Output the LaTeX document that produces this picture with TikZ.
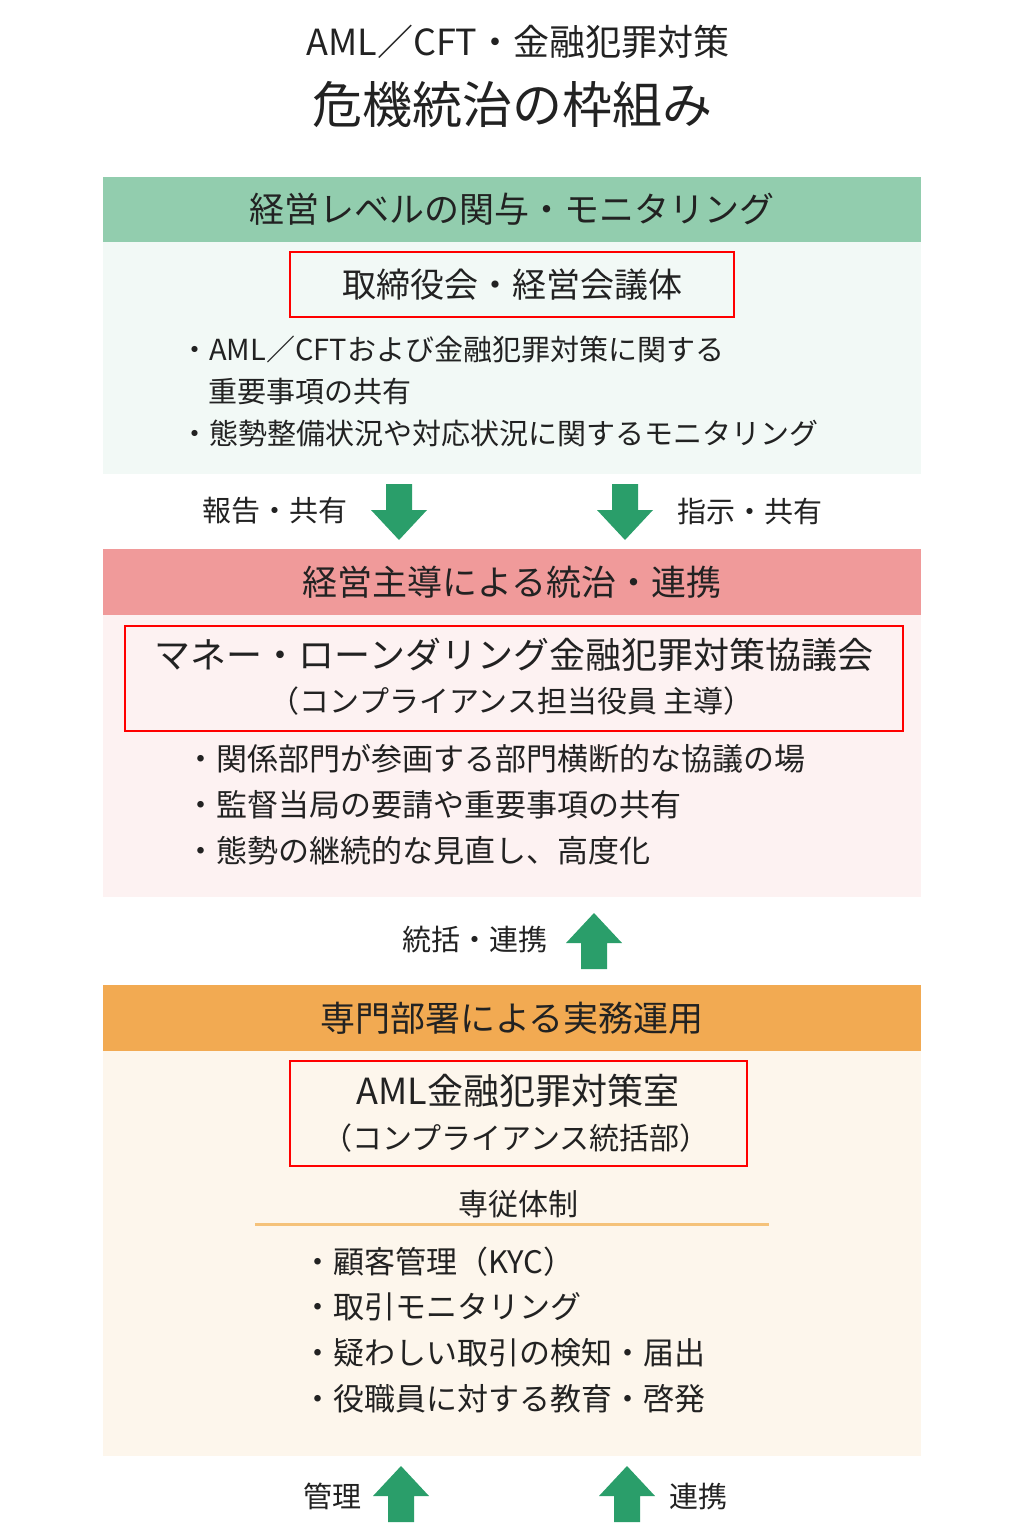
\documentclass[tikz,border=0pt]{standalone}
\usepackage{fontspec}
\setmainfont{Noto Sans CJK JP}
\definecolor{ghead}{HTML}{92CDAE}
\definecolor{gbody}{HTML}{F2F9F6}
\definecolor{rhead}{HTML}{F09A9A}
\definecolor{rbody}{HTML}{FDF2F2}
\definecolor{ohead}{HTML}{F2AA52}
\definecolor{obody}{HTML}{FDF6EC}
\definecolor{arr}{HTML}{2A9E6A}
\definecolor{oline}{HTML}{F5C27A}
\definecolor{tx}{HTML}{222222}
\newcommand{\fs}[1]{\fontsize{#1}{#1}\selectfont}
\newcommand{\downarr}[2]{\fill[arr] (#1-13,#2) -- (#1+13,#2) -- (#1+13,#2+26) -- (#1+28,#2+26) -- (#1,#2+56) -- (#1-28,#2+26) -- (#1-13,#2+26) -- cycle;}
\newcommand{\uparr}[2]{\fill[arr] (#1-13,#2+56) -- (#1+13,#2+56) -- (#1+13,#2+30) -- (#1+28,#2+30) -- (#1,#2) -- (#1-28,#2+30) -- (#1-13,#2+30) -- cycle;}
\begin{document}
\begin{tikzpicture}[x=1pt,y=-1pt,
  every node/.style={text=tx,inner sep=0pt},
  redbox/.style={draw=red,line width=1.2pt,fill=none}]
\useasboundingbox (0,0) rectangle (1024,1536);
\fill[white] (0,0) rectangle (1024,1536);
\node (t1) at (518,42) {\fs{36}AML／CFT・金融犯罪対策};
\node (t2) at (512,105) {\fs{50}危機統治の枠組み};
% green
\fill[ghead] (103,177) rectangle (921,242);
\fill[gbody] (103,242) rectangle (921,474);
\node (h1) at (512,209) {\fs{35}経営レベルの関与・モニタリング};
\draw[redbox] (290,252) rectangle (734,317);
\node (b1) at (512,285) {\fs{34}取締役会・経営会議体};
\node[anchor=west] (g1) at (180,350) {\fs{29}・AML／CFTおよび金融犯罪対策に関する};
\node[anchor=west] (g2) at (208,392) {\fs{29}重要事項の共有};
\node[anchor=west] (g3) at (180,433) {\fs{29}・態勢整備状況や対応状況に関するモニタリング};
\downarr{399}{484}
\downarr{625}{484}
\node (l1) at (275,511) {\fs{29}報告・共有};
\node (l2) at (750,511) {\fs{29}指示・共有};
% pink
\fill[rhead] (103,549) rectangle (921,615);
\fill[rbody] (103,615) rectangle (921,897);
\node (h2) at (512,582) {\fs{35}経営主導による統治・連携};
\draw[redbox] (125,626) rectangle (903,731);
\node (b2a) at (514,655) {\fs{36}マネー・ローンダリング金融犯罪対策協議会};
\node (b2b) at (512,701) {\fs{30}（コンプライアンス担当役員 主導）};
\node[anchor=west] (p1) at (185,759) {\fs{31}・関係部門が参画する部門横断的な協議の場};
\node[anchor=west] (p2) at (185,805) {\fs{31}・監督当局の要請や重要事項の共有};
\node[anchor=west] (p3) at (185,851) {\fs{31}・態勢の継続的な見直し、高度化};
\uparr{594}{913}
\node (l3) at (475,940) {\fs{29}統括・連携};
% orange
\fill[ohead] (103,985) rectangle (921,1051);
\fill[obody] (103,1051) rectangle (921,1456);
\node (h3) at (512,1018) {\fs{35}専門部署による実務運用};
\draw[redbox] (290,1061) rectangle (747,1166);
\node (b3a) at (518,1091) {\fs{36}AML金融犯罪対策室};
\node (b3b) at (516,1138) {\fs{30}（コンプライアンス統括部）};
\node (s) at (518,1204) {\fs{30}専従体制};
\draw[oline,line width=3pt] (255,1224) -- (769,1224);
\node[anchor=west] (o1) at (302,1262) {\fs{31}・顧客管理（KYC）};
\node[anchor=west] (o2) at (302,1307) {\fs{31}・取引モニタリング};
\node[anchor=west] (o3) at (302,1353) {\fs{31}・疑わしい取引の検知・届出};
\node[anchor=west] (o4) at (302,1399) {\fs{31}・役職員に対する教育・啓発};
\uparr{401}{1466}
\uparr{627}{1466}
\node (l4) at (332,1496) {\fs{29}管理};
\node (l5) at (698,1496) {\fs{29}連携};
\end{tikzpicture}
\end{document}
